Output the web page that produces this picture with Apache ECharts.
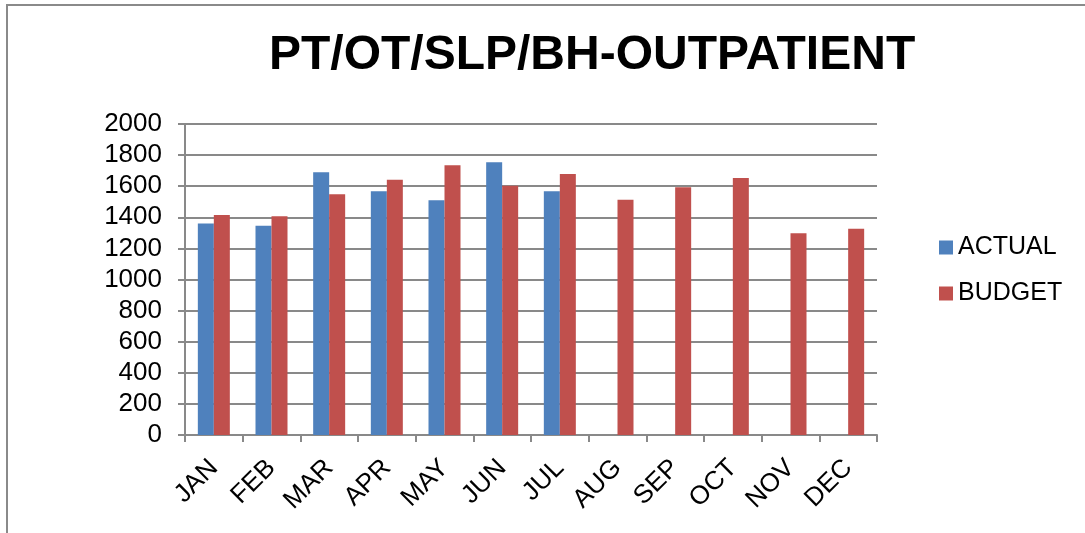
<!DOCTYPE html>
<html>
<head>
<meta charset="utf-8">
<title>PT/OT/SLP/BH-OUTPATIENT</title>
<script src="https://cdn.jsdelivr.net/npm/echarts@6/dist/echarts.min.js"></script>
<style>
    html, body { margin: 0; padding: 0; background: #fff; overflow: hidden; }
    #frame {
        position: absolute; left: 6px; top: 4px;
        width: 1200px; height: 700px;
        border: 2px solid #8a8a8a;
    }
    #chart { position: absolute; left: 0; top: 0; width: 1085px; height: 533px; }
</style>
</head>
<body>
<div id="frame"></div>
<div id="chart"></div>
<script>
    var months = ['JAN', 'FEB', 'MAR', 'APR', 'MAY', 'JUN', 'JUL', 'AUG', 'SEP', 'OCT', 'NOV', 'DEC'];
    var actual = [1360, 1345, 1690, 1567, 1509, 1754, 1567, null, null, null, null, null];
    var budget = [1414, 1406, 1548, 1642, 1734, 1603, 1678, 1513, 1593, 1653, 1297, 1327];

    var FONT = '"Liberation Sans", Arial, sans-serif';
    var GRAY = '#898989';

    var myChart = echarts.init(document.getElementById('chart'));
    var chartOption = {
        animation: false,
        title: {
            text: 'PT/OT/SLP/BH-OUTPATIENT',
            left: 264,
            top: 27,
            textStyle: {
                fontFamily: FONT,
                fontSize: 48,
                fontWeight: 'bold',
                color: '#000'
            }
        },
        legend: {
            orient: 'vertical',
            left: 934,
            top: 230,
            itemWidth: 14,
            itemHeight: 14,
            itemGap: 21,
            icon: 'rect',
            textStyle: {
                fontFamily: FONT,
                fontSize: 25,
                color: '#000'
            },
            data: ['ACTUAL', 'BUDGET']
        },
        grid: {
            left: 185,
            top: 124,
            right: 208,
            bottom: 98,
            containLabel: false
        },
        xAxis: {
            type: 'category',
            data: months,
            axisLine: { lineStyle: { color: GRAY, width: 2 } },
            axisTick: { show: true, length: 7, lineStyle: { color: GRAY, width: 2 } },
            axisLabel: {
                rotate: 45,
                margin: 29,
                fontFamily: FONT,
                fontSize: 26,
                color: '#000'
            }
        },
        yAxis: {
            type: 'value',
            min: 0,
            max: 2000,
            interval: 200,
            axisLine: { show: true, lineStyle: { color: GRAY, width: 2 } },
            axisTick: { show: true, length: 7, lineStyle: { color: GRAY, width: 2 } },
            splitLine: { lineStyle: { color: GRAY, width: 2 } },
            axisLabel: {
                margin: 23,
                fontFamily: FONT,
                fontSize: 26,
                color: '#000',
                formatter: function (v) { return String(v); }
            }
        },
        series: [{
                name: 'ACTUAL',
                type: 'bar',
                barWidth: 16,
                barGap: '0%',
                itemStyle: { color: '#4F81BD' },
                data: actual
            },
            {
                name: 'BUDGET',
                type: 'bar',
                barWidth: 16,
                barGap: '0%',
                itemStyle: { color: '#C0504D' },
                data: budget
            }
        ]
    };
    myChart.setOption(chartOption);
</script>
</body>
</html>
